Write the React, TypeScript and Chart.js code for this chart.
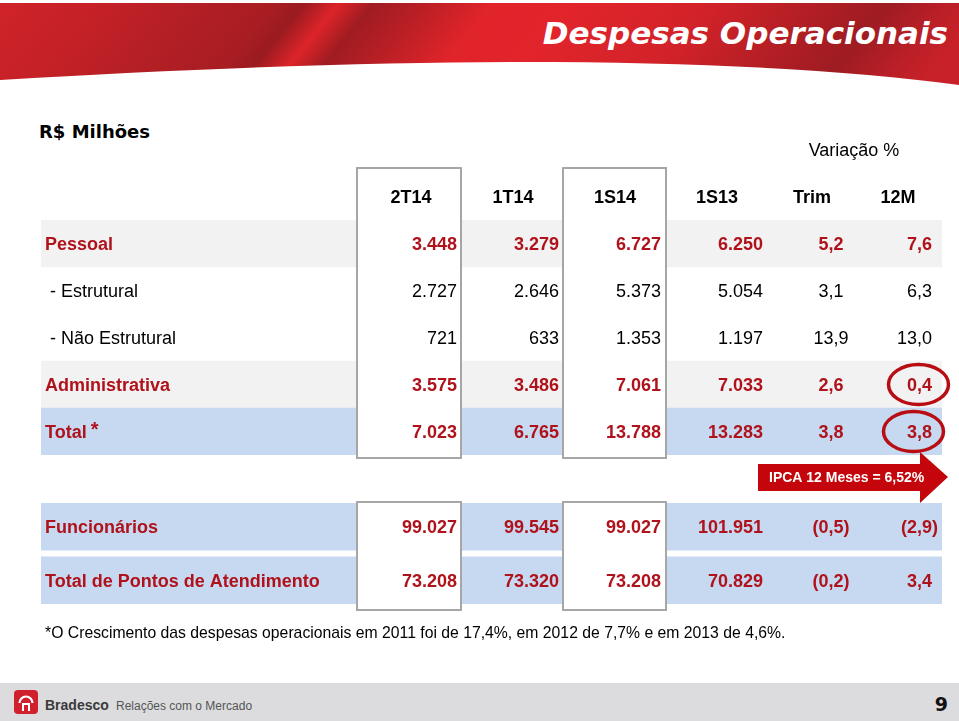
import React, { useEffect, useRef } from "react";
import { Chart, registerables } from "chart.js";

Chart.register(...registerables);

// ---------------- data ----------------
const TITLE = "Despesas Operacionais";
const UNIT_LABEL = "R$ Milhões";
const VARIATION_TITLE = "Variação %";
const COLUMNS = ["2T14", "1T14", "1S14", "1S13", "Trim", "12M"];

const UPPER_LABELS = ["Pessoal", "- Estrutural", "- Não Estrutural", "Administrativa", "Total"];
const PESSOAL = [3448, 3279, 6727, 6250, 5.2, 7.6];
const ESTRUTURAL = [2727, 2646, 5373, 5054, 3.1, 6.3];
const NAO_ESTRUTURAL = [721, 633, 1353, 1197, 13.9, 13.0];
const ADMINISTRATIVA = [3575, 3486, 7061, 7033, 2.6, 0.4];
const TOTAL = [7023, 6765, 13788, 13283, 3.8, 3.8];
const UPPER_VALUES = [PESSOAL, ESTRUTURAL, NAO_ESTRUTURAL, ADMINISTRATIVA, TOTAL];

const LOWER_LABELS = ["Funcionários", "Total de Pontos de Atendimento"];
const FUNCIONARIOS = [99027, 99545, 99027, 101951, -0.5, -2.9];
const PONTOS = [73208, 73320, 73208, 70829, -0.2, 3.4];
const LOWER_VALUES = [FUNCIONARIOS, PONTOS];

const IPCA_LABEL = "IPCA 12 Meses";
const IPCA_12M = 6.52;
const FOOTNOTE =
  "*O Crescimento das despesas operacionais em 2011 foi de 17,4%, em 2012 de 7,7% e em 2013 de 4,6%.";
const BRAND = "Bradesco";
const FOOTER_TEXT = "Relações com o Mercado";
const PAGE = "9";

// ---------------- styles / layout ----------------
const FONT = '"Liberation Sans", Arial, sans-serif';
const RED = "#b0121b";
const GRAY_BAND = "#f2f2f2";
const BLUE_BAND = "#c6d9f1";
const BOX_BORDER = "#a6a6a6";

const TABLE_W = 901; // table width in layout units
const UPPER_EMPH = [true, false, false, true, true];
const UPPER_BAND = [GRAY_BAND, null, null, GRAY_BAND, BLUE_BAND];
const LOWER_BAND = [BLUE_BAND, BLUE_BAND];
const LABEL_X = 4;
const SUB_LABEL_X = 9;
const COL_ANCHOR = [416, 518, 620, 722, 790, 891];
const COL_ALIGN: CanvasTextAlign[] = ["right", "right", "right", "right", "center", "right"];
const HEADER_CENTER = [370, 472, 574, 676, 771, 857];
const VARIATION_CENTER = 813;
const BOXES = [
  [316, 420],
  [522, 625],
];
const HIGHLIGHTS = [
  { row: 3, col: 5, dx: -1 },
  { row: 4, col: 5, dx: -6 },
];

function fmt(v: number, col: number): string {
  const neg = v < 0;
  const a = Math.abs(v);
  let s: string;
  if (col < 4) s = Math.round(a).toString().replace(/\B(?=(\d{3})+(?!\d))/g, ".");
  else s = a.toFixed(1).replace(".", ",");
  return neg ? `(${s})` : s;
}

function drawText(
  ctx: CanvasRenderingContext2D,
  text: string,
  x: number,
  yMid: number,
  align: CanvasTextAlign,
  bold: boolean,
  color: string,
  size = 18
) {
  ctx.font = `${bold ? "bold " : ""}${size}px ${FONT}`;
  ctx.fillStyle = color;
  ctx.textAlign = align;
  ctx.textBaseline = "alphabetic";
  let xx = x;
  if (align === "right" && text.endsWith(")")) xx += ctx.measureText(")").width;
  ctx.fillText(text, xx, yMid + size * 0.358);
}

function drawBoxes(chart: any, top: number, bottom: number) {
  const { ctx } = chart;
  const x = chart.scales.x;
  BOXES.forEach(([l, r]) => {
    const x0 = x.getPixelForValue(l);
    const x1 = x.getPixelForValue(r);
    ctx.fillStyle = "#ffffff";
    ctx.fillRect(x0, top, x1 - x0, bottom - top);
    ctx.strokeStyle = BOX_BORDER;
    ctx.lineWidth = 2;
    ctx.strokeRect(x0, top, x1 - x0, bottom - top);
  });
}

function drawRows(chart: any, labels: string[], values: number[][], emph: boolean[]) {
  const { ctx } = chart;
  const x = chart.scales.x;
  const y = chart.scales.y;
  labels.forEach((lab, i) => {
    const ym = y.getPixelForValue(i);
    const bold = emph[i];
    const color = bold ? RED : "#000000";
    const lx = x.getPixelForValue(bold ? LABEL_X : SUB_LABEL_X);
    drawText(ctx, lab, lx, ym, "left", bold, color);
    if (lab === "Total") {
      ctx.font = `bold 18px ${FONT}`;
      const w = ctx.measureText(lab).width;
      drawText(ctx, "*", lx + w + 4, ym - 3, "left", true, RED, 20);
    }
    values[i].forEach((v, c) => {
      drawText(ctx, fmt(v, c), x.getPixelForValue(COL_ANCHOR[c]), ym, COL_ALIGN[c], bold, color);
    });
  });
}

const upperPlugin = {
  id: "upperTable",
  afterDatasetsDraw(chart: any) {
    const { ctx, chartArea: ca } = chart;
    const x = chart.scales.x;
    const y = chart.scales.y;
    ctx.save();
    drawBoxes(chart, ca.top - 52, ca.bottom + 3);
    // headers
    drawText(ctx, VARIATION_TITLE, x.getPixelForValue(VARIATION_CENTER), ca.top - 70, "center", false, "#000");
    COLUMNS.forEach((c, i) => {
      drawText(ctx, c, x.getPixelForValue(HEADER_CENTER[i]), ca.top - 23, "center", true, "#000");
    });
    drawRows(chart, UPPER_LABELS, UPPER_VALUES, UPPER_EMPH);
    // highlight ellipses
    HIGHLIGHTS.forEach((h) => {
      const ym = y.getPixelForValue(h.row);
      ctx.font = `bold 18px ${FONT}`;
      const t = fmt(UPPER_VALUES[h.row][h.col], h.col);
      const w = ctx.measureText(t).width;
      const cx = x.getPixelForValue(COL_ANCHOR[h.col]) - w / 2 + h.dx;
      ctx.beginPath();
      ctx.ellipse(cx, ym, 30, 20, 0, 0, Math.PI * 2);
      ctx.strokeStyle = "#b80d12";
      ctx.lineWidth = 3.5;
      ctx.stroke();
    });
    ctx.restore();
  },
};

const lowerPlugin = {
  id: "lowerTable",
  afterDatasetsDraw(chart: any) {
    const { ctx, chartArea: ca } = chart;
    const x = chart.scales.x;
    ctx.save();
    drawBoxes(chart, ca.top + 2, ca.bottom + 3);
    // IPCA arrow
    const left = x.getPixelForValue(717);
    const headBase = x.getPixelForValue(879);
    const tip = x.getPixelForValue(907);
    const midY = ca.top - 23;
    ctx.beginPath();
    ctx.moveTo(left, ca.top - 36);
    ctx.lineTo(headBase, ca.top - 36);
    ctx.lineTo(headBase, ca.top - 48);
    ctx.lineTo(tip, midY);
    ctx.lineTo(headBase, ca.top + 3);
    ctx.lineTo(headBase, ca.top - 9);
    ctx.lineTo(left, ca.top - 9);
    ctx.closePath();
    ctx.fillStyle = "#c4060c";
    ctx.fill();
    const ipcaText = `${IPCA_LABEL} = ${IPCA_12M.toFixed(2).replace(".", ",")}%`;
    drawText(ctx, ipcaText, x.getPixelForValue(728), midY, "left", true, "#ffffff", 14);
    drawRows(chart, LOWER_LABELS, LOWER_VALUES, [true, true]);
    ctx.restore();
  },
};

function makeConfig(labels: string[], bands: (string | null)[], padding: any, thickness: number, plugin: any): any {
  return {
    type: "bar",
    data: {
      labels,
      datasets: [
        {
          data: bands.map((b) => (b ? [0, TABLE_W] : null)),
          backgroundColor: bands.map((b) => b || "rgba(0,0,0,0)"),
          borderWidth: 0,
          barThickness: thickness,
        },
      ],
    },
    options: {
      indexAxis: "y",
      responsive: false,
      animation: false,
      events: [],
      layout: { padding },
      plugins: { legend: { display: false }, tooltip: { enabled: false } },
      scales: {
        x: { type: "linear", min: 0, max: TABLE_W, display: false },
        y: { type: "category", display: false, offset: true },
      },
    },
    plugins: [plugin],
  };
}

export default function App() {
  const upperRef = useRef<HTMLCanvasElement>(null);
  const lowerRef = useRef<HTMLCanvasElement>(null);

  useEffect(() => {
    const up = new Chart(
      upperRef.current as HTMLCanvasElement,
      makeConfig(UPPER_LABELS, UPPER_BAND, { left: 41, right: 17, top: 80, bottom: 15 }, 47, upperPlugin)
    );
    const lo = new Chart(
      lowerRef.current as HTMLCanvasElement,
      makeConfig(LOWER_LABELS, LOWER_BAND, { left: 41, right: 17, top: 60, bottom: 13 }, 47, lowerPlugin)
    );
    return () => {
      up.destroy();
      lo.destroy();
    };
  }, []);

  return (
    <div
      style={{
        position: "fixed",
        left: 0,
        top: 0,
        width: 959,
        height: 721,
        background: "#ffffff",
        overflow: "hidden",
      }}
    >
      <svg width={959} height={92} style={{ position: "absolute", left: 0, top: 0 }}>
        <defs>
          <linearGradient id="hdr" gradientUnits="userSpaceOnUse" x1="0" y1="0" x2="604" y2="483">
            <stop offset="0" stopColor="#cf2329" />
            <stop offset="0.1" stopColor="#c52127" />
            <stop offset="0.2" stopColor="#b31f25" />
            <stop offset="0.28" stopColor="#a81d22" />
            <stop offset="0.31" stopColor="#9a1b20" />
            <stop offset="0.345" stopColor="#dc2429" />
            <stop offset="0.38" stopColor="#a01c21" />
            <stop offset="0.43" stopColor="#b81f25" />
            <stop offset="0.5" stopColor="#e0242a" />
            <stop offset="0.58" stopColor="#e2242b" />
            <stop offset="0.72" stopColor="#d22229" />
            <stop offset="0.86" stopColor="#a81d23" />
            <stop offset="0.9" stopColor="#9e1c22" />
            <stop offset="0.96" stopColor="#bb1f27" />
            <stop offset="1" stopColor="#c82129" />
          </linearGradient>
        </defs>
        <path d="M0,3 H959 V85 C850,70 700,62 520,62 C380,62 200,68 0,80 Z" fill="url(#hdr)" />
        <text
          x={948}
          y={44}
          textAnchor="end"
          fontFamily="'DejaVu Sans', sans-serif"
          fontWeight={700}
          fontStyle="italic"
          fontSize={31}
          fill="#ffffff"
        >
          {TITLE}
        </text>
      </svg>

      <div
        style={{
          position: "absolute",
          left: 39,
          top: 123,
          font: "bold 18px 'DejaVu Sans', sans-serif",
          lineHeight: "18px",
          whiteSpace: "nowrap",
          color: "#000",
        }}
      >
        {UNIT_LABEL}
      </div>

      <canvas ref={upperRef} width={959} height={330} style={{ position: "absolute", left: 0, top: 140 }} />
      <canvas ref={lowerRef} width={959} height={180} style={{ position: "absolute", left: 0, top: 440 }} />

      <div
        style={{
          position: "absolute",
          left: 45,
          top: 625,
          font: `15.75px ${FONT}`,
          lineHeight: "15px",
          whiteSpace: "nowrap",
          color: "#000",
        }}
      >
        {FOOTNOTE}
      </div>

      <svg width={959} height={40} style={{ position: "absolute", left: 0, top: 681 }}>
        <rect x={0} y={2} width={959} height={38} fill="#dcdcdf" />
        <rect x={14} y={9} width={24} height={24} rx={4} fill="#d0202e" />
        <path d="M19.5,22 A6.5,6.5 0 0 1 32.5,22" stroke="#fff" strokeWidth={2.2} fill="none" />
        <path d="M23,22 V30 M29,22 V30 M23,23 H29" stroke="#fff" strokeWidth={2} fill="none" />
        <text x={45} y={29} fontFamily={FONT} fontWeight={700} fontSize={14} fill="#3a3a3a">
          {BRAND}
        </text>
        <text x={116} y={29} fontFamily={FONT} fontSize={12} fill="#555555">
          {FOOTER_TEXT}
        </text>
        <text x={948} y={30} textAnchor="end" fontFamily="'DejaVu Sans', sans-serif" fontWeight={700} fontSize={19} fill="#111111">
          {PAGE}
        </text>
      </svg>
    </div>
  );
}
